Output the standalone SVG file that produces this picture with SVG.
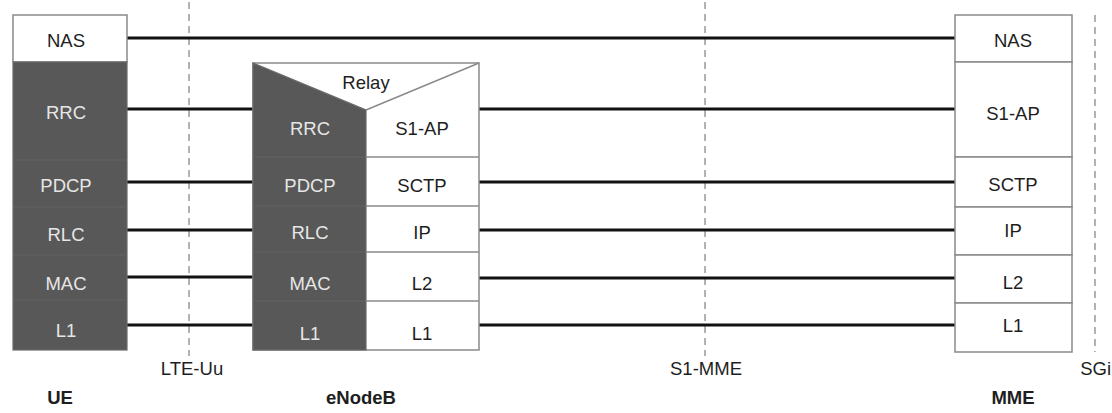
<svg xmlns="http://www.w3.org/2000/svg" width="1112" height="413" viewBox="0 0 1112 413">
<style>
text{font-family:"Liberation Sans",Arial,sans-serif;font-size:18.5px;text-anchor:middle}
.w{fill:#fff;stroke:#8a8a8a;stroke-width:1.5}
.d{fill:#585858;stroke:#6a6a6a;stroke-width:1.2}
.dt{fill:#e6e6e6}
.lt{fill:#1e1e1e}
.lbl{fill:#1e1e1e;font-weight:bold}
.ln{stroke:#111;stroke-width:3;fill:none}
.dash{stroke:#999;stroke-width:1.5;stroke-dasharray:7 5;fill:none}
</style>
<rect width="1112" height="413" fill="#fff"/>
<g id="boundaries">
<line class="dash" x1="189" y1="2" x2="189" y2="356"/>
<line class="dash" x1="705" y1="2" x2="705" y2="356"/>
<line class="dash" x1="1095" y1="15" x2="1095" y2="352"/>
<text class="lt" x="192" y="375">LTE-Uu</text>
<text class="lt" x="706" y="375">S1-MME</text>
<text class="lt" x="1111" y="375" style="text-anchor:end">SGi</text>
</g>
<g id="connectors">
<line class="ln" x1="127" y1="38" x2="955" y2="38"/>
<line class="ln" x1="127" y1="109" x2="253" y2="109"/>
<line class="ln" x1="127" y1="182" x2="253" y2="182"/>
<line class="ln" x1="127" y1="230" x2="253" y2="230"/>
<line class="ln" x1="127" y1="277" x2="253" y2="277"/>
<line class="ln" x1="127" y1="325" x2="253" y2="325"/>
<line class="ln" x1="479" y1="109" x2="955" y2="109"/>
<line class="ln" x1="479" y1="182" x2="955" y2="182"/>
<line class="ln" x1="479" y1="230" x2="955" y2="230"/>
<line class="ln" x1="479" y1="278" x2="955" y2="278"/>
<line class="ln" x1="479" y1="325" x2="955" y2="325"/>
</g>
<g id="ue">
<rect class="w" x="13" y="15" width="114" height="47"/>
<rect class="d" x="13" y="62" width="114" height="288"/>
<g stroke="#626262" stroke-width="1">
<line x1="13" y1="160" x2="127" y2="160"/>
<line x1="13" y1="207" x2="127" y2="207"/>
<line x1="13" y1="255" x2="127" y2="255"/>
<line x1="13" y1="300" x2="127" y2="300"/>
</g>
<text class="lt" x="66" y="47">NAS</text>
<text class="dt" x="66" y="119">RRC</text>
<text class="dt" x="66" y="192">PDCP</text>
<text class="dt" x="66" y="241">RLC</text>
<text class="dt" x="66" y="290">MAC</text>
<text class="dt" x="66" y="337">L1</text>
<text class="lbl" x="60" y="404">UE</text>
</g>
<g id="enodeb">
<rect class="w" x="253" y="63" width="226" height="287"/>
<polygon points="253,63 366,110 366,350 253,350" fill="#585858" stroke="#6a6a6a" stroke-width="1.2"/>
<line x1="366" y1="110" x2="479" y2="63" stroke="#8a8a8a" stroke-width="1.5"/>
<g stroke="#626262" stroke-width="1">
<line x1="253" y1="157" x2="366" y2="157"/>
<line x1="253" y1="206" x2="366" y2="206"/>
<line x1="253" y1="252" x2="366" y2="252"/>
<line x1="253" y1="301" x2="366" y2="301"/>
</g>
<g stroke="#8a8a8a" stroke-width="1.5">
<line x1="366" y1="157" x2="479" y2="157"/>
<line x1="366" y1="206" x2="479" y2="206"/>
<line x1="366" y1="252" x2="479" y2="252"/>
<line x1="366" y1="301" x2="479" y2="301"/>
</g>
<text class="lt" x="366" y="89">Relay</text>
<text class="dt" x="310" y="135">RRC</text>
<text class="dt" x="310" y="192">PDCP</text>
<text class="dt" x="310" y="239">RLC</text>
<text class="dt" x="310" y="290">MAC</text>
<text class="dt" x="310" y="340">L1</text>
<text class="lt" x="422" y="135">S1-AP</text>
<text class="lt" x="422" y="192">SCTP</text>
<text class="lt" x="422" y="239">IP</text>
<text class="lt" x="422" y="290">L2</text>
<text class="lt" x="422" y="340">L1</text>
<text class="lbl" x="361" y="404">eNodeB</text>
</g>
<g id="mme">
<rect class="w" x="955" y="15" width="117" height="47"/>
<rect class="w" x="955" y="62" width="117" height="95"/>
<rect class="w" x="955" y="157" width="117" height="50"/>
<rect class="w" x="955" y="207" width="117" height="48"/>
<rect class="w" x="955" y="255" width="117" height="48"/>
<rect class="w" x="955" y="303" width="117" height="49"/>
<text class="lt" x="1013" y="47">NAS</text>
<text class="lt" x="1013" y="120">S1-AP</text>
<text class="lt" x="1013" y="191">SCTP</text>
<text class="lt" x="1013" y="237">IP</text>
<text class="lt" x="1013" y="289">L2</text>
<text class="lt" x="1013" y="332">L1</text>
<text class="lbl" x="1013" y="404">MME</text>
</g>
</svg>
